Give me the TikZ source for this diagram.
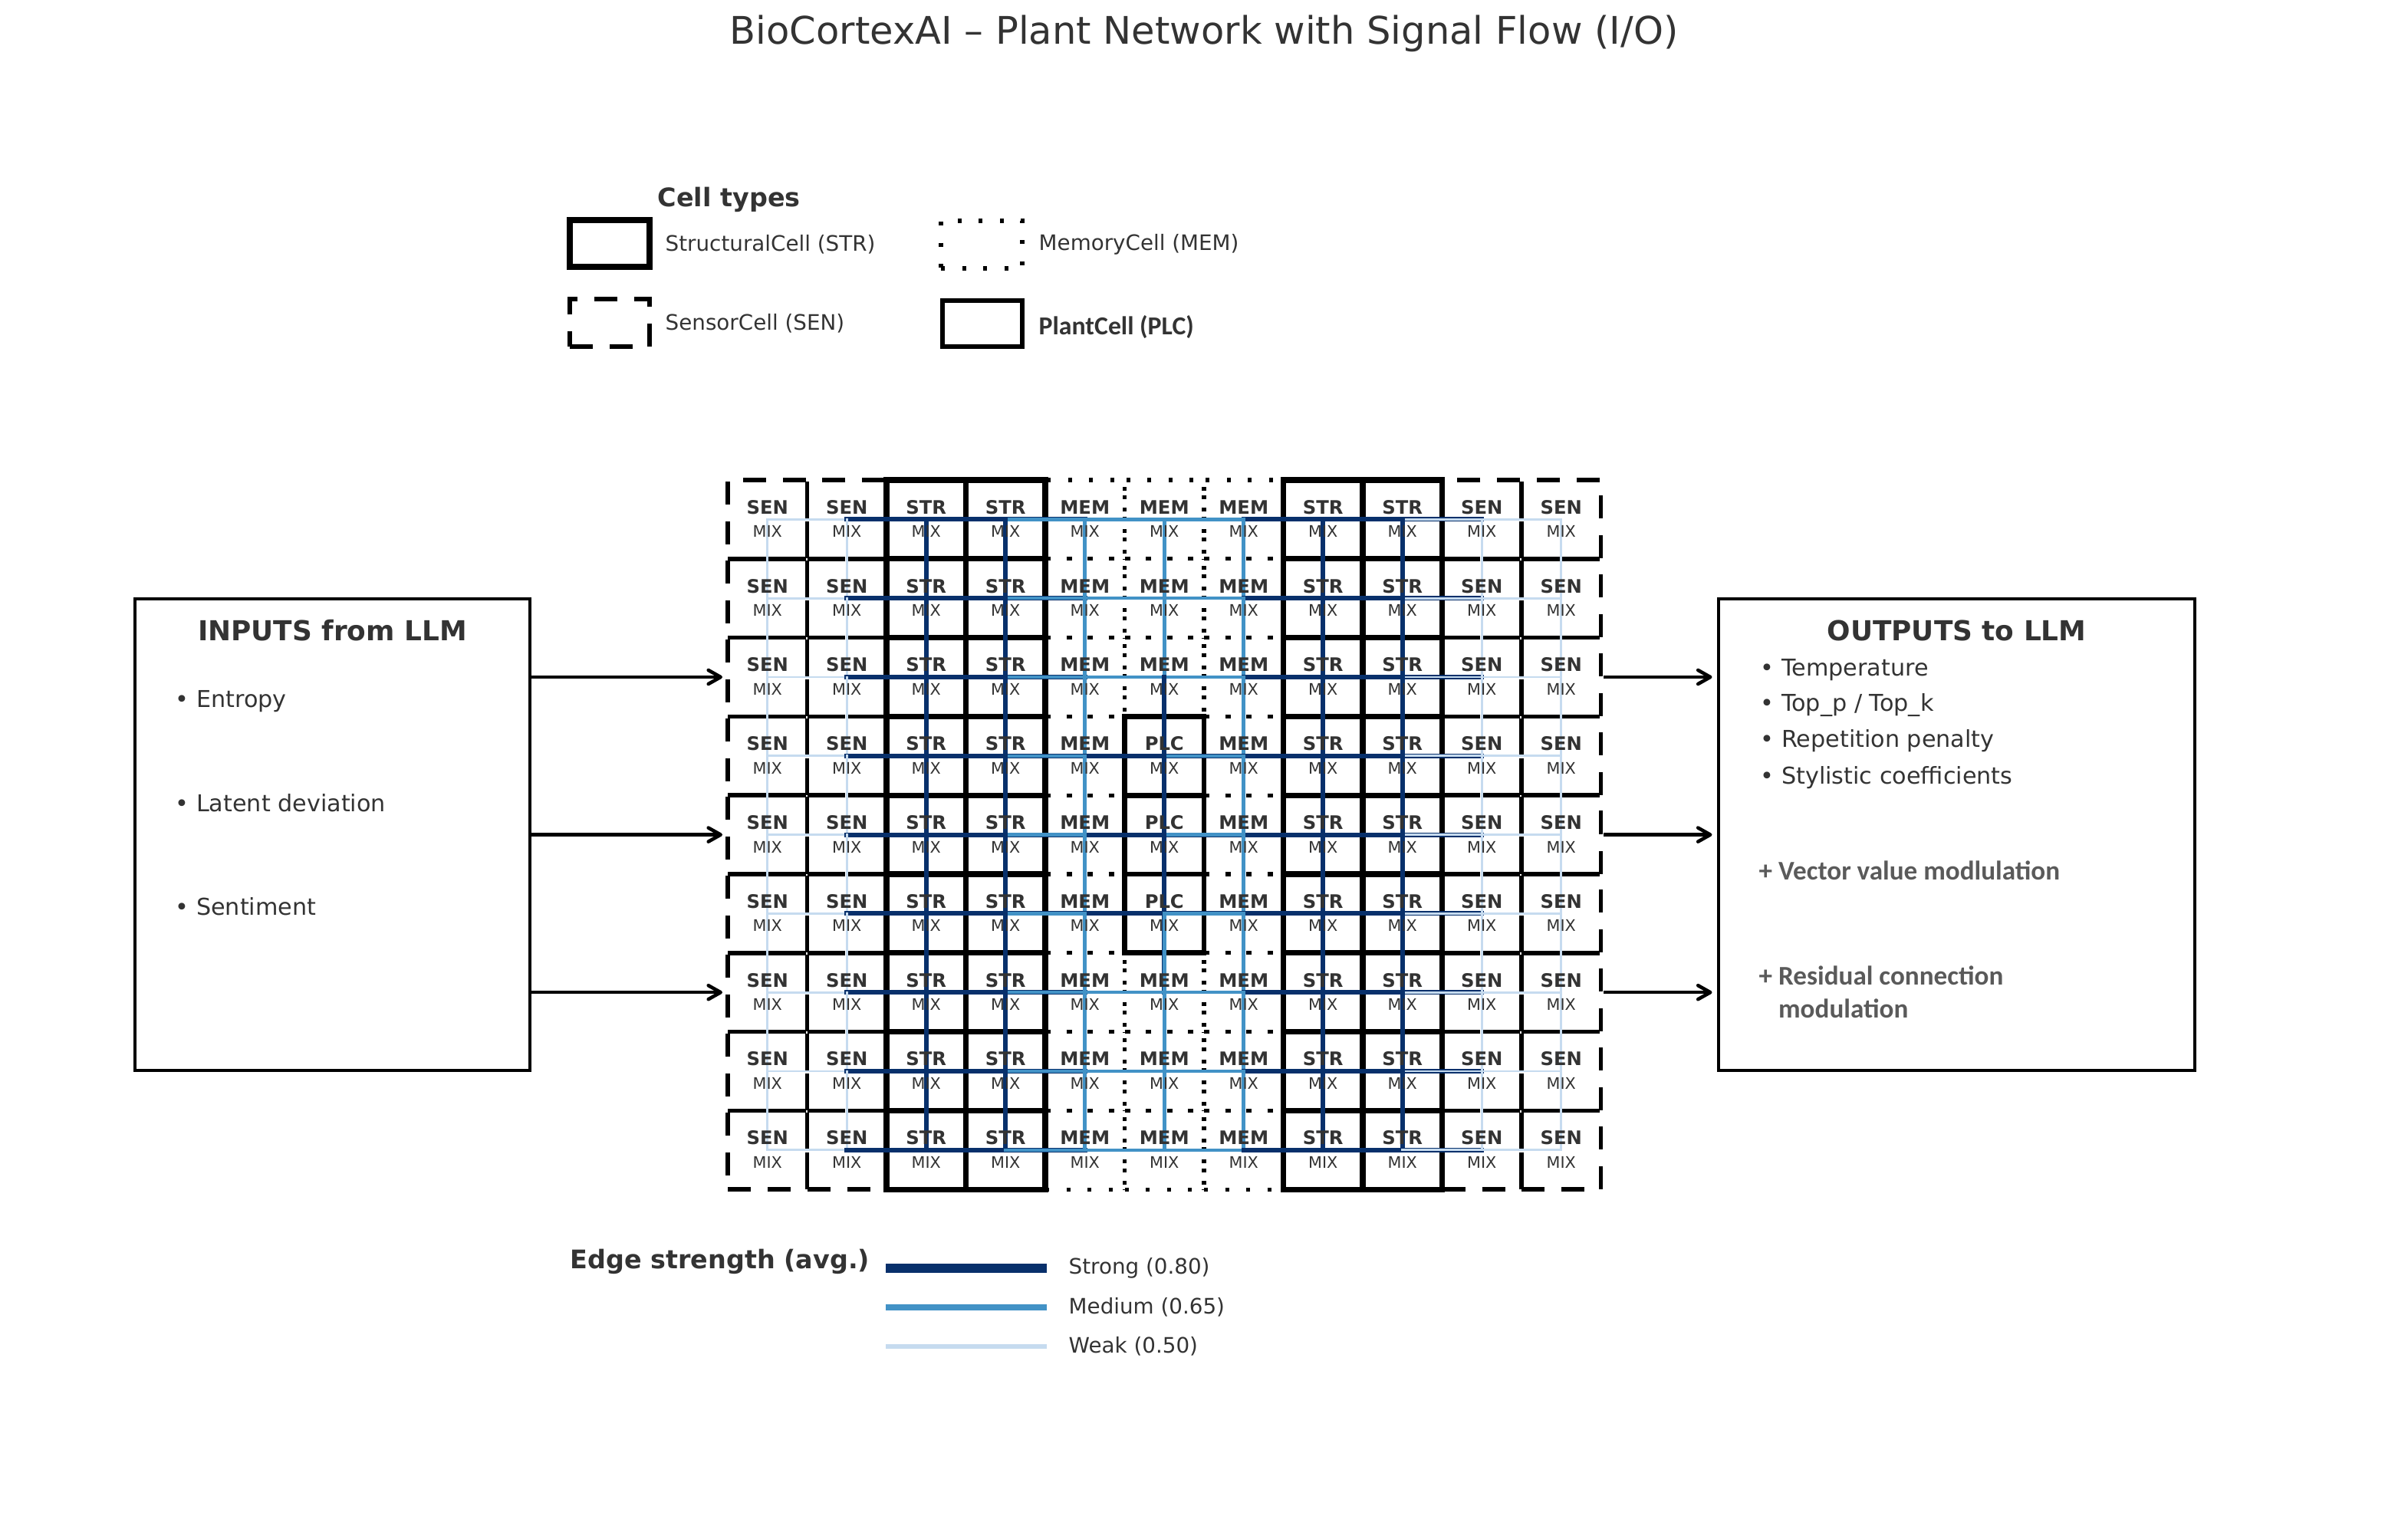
\documentclass[tikz,border=0pt]{standalone}
\usepackage{fontspec}
\setmainfont{DejaVu Sans}
\newfontfamily\calibfont{Carlito}
\usetikzlibrary{arrows.meta}

\definecolor{txt}{RGB}{51,51,51}
\definecolor{notegray}{RGB}{90,90,90}
\definecolor{strongblue}{RGB}{8,48,107}
\definecolor{mediumblue}{RGB}{66,146,198}
\definecolor{weakblue}{RGB}{198,219,239}

% kind of the cell in row #1, column #2
\newcommand\cellkind[2]{%
  \ifcase#2\relax\or\def\ctype{SEN}\or\def\ctype{SEN}\or\def\ctype{STR}\or\def\ctype{STR}%
  \or\def\ctype{MEM}\or\def\ctype{MEM}\or\def\ctype{MEM}\or\def\ctype{STR}\or\def\ctype{STR}%
  \or\def\ctype{SEN}\or\def\ctype{SEN}\fi
  \ifnum#2=6 \ifnum#1>3 \ifnum#1<7 \def\ctype{PLC}\fi\fi\fi}

\tikzset{
  cellbase/.style={rectangle, minimum width=1.035cm, minimum height=1.028cm, inner sep=0pt, outer sep=0pt},
  cellSTR/.style={cellbase, draw=black, line width=2.1pt},
  cellPLC/.style={cellbase, draw=black, line width=1.9pt},
  cellSEN/.style={cellbase, draw=black, line width=1.6pt, dash pattern=on 0.3cm off 0.22cm},
  cellMEM/.style={cellbase, draw=black, line width=1.5pt, dash pattern=on 0.05cm off 0.225cm},
  edgeSTR/.style={draw=strongblue, line width=1.7pt, line cap=rect},
  edgePLC/.style={edgeSTR},
  edgeMEM/.style={draw=mediumblue, line width=1.3pt, line cap=rect},
  edgeSEN/.style={draw=weakblue, line width=0.8pt, line cap=rect},
  kindlbl/.style={font=\bfseries\fontsize{6.9}{8}\selectfont, text=txt, inner sep=0pt},
  mixlbl/.style={font=\fontsize{5.9}{7}\selectfont, text=txt, inner sep=0pt},
  titletxt/.style={font=\fontsize{14.1}{17}\selectfont, text=txt, inner sep=0pt},
  headtxt/.style={font=\bfseries\fontsize{9.5}{11.4}\selectfont, text=txt, inner sep=0pt, anchor=west},
  legtxt/.style={font=\fontsize{7.9}{9.5}\selectfont, text=txt, inner sep=0pt, anchor=west},
  boxhead/.style={font=\bfseries\fontsize{10.2}{12.2}\selectfont, text=txt, inner sep=0pt},
  bullettxt/.style={font=\fontsize{8.6}{10.3}\selectfont, text=txt, inner sep=0pt, anchor=west},
  notetxt/.style={font=\calibfont\bfseries\fontsize{10}{12.2}\selectfont, text=notegray, inner sep=0pt, anchor=west, align=left},
  iobox/.style={draw=black, line width=1.4pt, minimum height=6.15cm, inner sep=0pt, outer sep=0pt},
  flow/.style={-{Straight Barb[length=1.6mm, width=1.8mm, round]}, line width=1.3pt, black}
}

\begin{document}
\begin{tikzpicture}
  \useasboundingbox (0,0) rectangle (31.40,-19.81);

  \node[titletxt] (title) at (15.70,-0.44) {BioCortexAI – Plant Network with Signal Flow (I/O)};

  % cell types
  \node[headtxt] (typehead) at (8.57,-2.60) {Cell types};
  \node[cellSTR, minimum width=1.04cm, minimum height=0.61cm] (legSTR) at (7.95,-3.175) {};
  \node[legtxt] (legSTRtxt) at (8.67,-3.19) {StructuralCell (STR)};
  \node[cellMEM, minimum width=1.06cm, minimum height=0.62cm] (legMEM) at (12.80,-3.19) {};
  \node[legtxt] (legMEMtxt) at (13.54,-3.19) {MemoryCell (MEM)};
  \node[cellSEN, minimum width=1.04cm, minimum height=0.62cm] (legSEN) at (7.95,-4.21) {};
  \node[legtxt] (legSENtxt) at (8.67,-4.22) {SensorCell (SEN)};
  \node[cellPLC, minimum width=1.04cm, minimum height=0.60cm] (legPLC) at (12.81,-4.22) {};
  \node[legtxt, font=\calibfont\bfseries\fontsize{9.6}{11.5}\selectfont] (legPLCtxt) at (13.54,-4.27) {PlantCell (PLC)};

  % plant network
  \begin{scope}[shift={(9.49,-6.26)}, x=1.035cm, y=-1.028cm]
    \foreach \r in {1,...,9}
      \foreach \c in {1,...,11} {
        \cellkind{\r}{\c}
        \node[cell\ctype] (cell-\r-\c) at (\c-0.5,\r-0.5) {};
      }
  \end{scope}

  \foreach \r in {1,...,9}
    \foreach \c in {1,...,11} {
      \cellkind{\r}{\c}
      \pgfmathtruncatemacro\cprev{\c-1}
      \pgfmathtruncatemacro\cnext{\c+1}
      \pgfmathtruncatemacro\rprev{\r-1}
      \pgfmathtruncatemacro\rnext{\r+1}
      \ifnum\c>1 \draw[edge\ctype] (cell-\r-\c.center) -- (cell-\r-\cprev.center);\fi
      \ifnum\c<11 \draw[edge\ctype] (cell-\r-\c.center) -- (cell-\r-\cnext.center);\fi
      \ifnum\r>1 \draw[edge\ctype] (cell-\r-\c.center) -- (cell-\rprev-\c.center);\fi
      \ifnum\r<9 \draw[edge\ctype] (cell-\r-\c.center) -- (cell-\rnext-\c.center);\fi
    }

  \foreach \r in {1,...,9}
    \foreach \c in {1,...,11} {
      \cellkind{\r}{\c}
      \node[kindlbl] (kind-\r-\c) at ([yshift=0.16cm]cell-\r-\c.center) {\ctype};
      \node[mixlbl] (mix-\r-\c) at ([yshift=-0.16cm]cell-\r-\c.center) {MIX};
    }

  % inputs and outputs
  \node[iobox, minimum width=5.15cm] (inbox) at (4.335,-10.885) {};
  \node[boxhead] (inhead) at (4.335,-8.22) {INPUTS from LLM};
  \node[bullettxt] (in1) at (2.28,-9.15) {• Entropy};
  \node[bullettxt] (in2) at (2.28,-10.47) {• Latent deviation};
  \node[bullettxt] (in3) at (2.28,-11.82) {• Sentiment};

  \node[iobox, minimum width=6.21cm] (outbox) at (25.515,-10.885) {};
  \node[boxhead] (outhead) at (25.515,-8.22) {OUTPUTS to LLM};
  \node[bullettxt] (out1) at (22.95,-8.74) {• Temperature};
  \node[bullettxt] (out2) at (22.95,-9.20) {• Top\_p / Top\_k};
  \node[bullettxt] (out3) at (22.95,-9.66) {• Repetition penalty};
  \node[bullettxt] (out4) at (22.95,-10.14) {• Stylistic coefficients};
  \node[notetxt] (note1) at (22.93,-11.35) {+ Vector value modlulation};
  \node[notetxt] (note2) at (22.93,-12.935) {+ Residual connection\\\phantom{+ }modulation};

  \foreach \r in {3,5,7} {
    \draw[flow, shorten >=0.07cm] (inbox.east |- cell-\r-1.center) -- (cell-\r-1.west);
    \draw[flow, shorten <=0.035cm, shorten >=0.085cm] (cell-\r-11.east) -- (outbox.west |- cell-\r-11.center);
  }

  % edge strength
  \node[headtxt] (edgehead) at (7.43,-16.45) {Edge strength (avg.)};
  \node[legtxt] (lgstrong) at (13.93,-16.54) {Strong (0.80)};
  \node[legtxt] (lgmedium) at (13.93,-17.05) {Medium (0.65)};
  \node[legtxt] (lgweak) at (13.93,-17.56) {Weak (0.50)};
  \draw[strongblue, line width=3.2pt] ([xshift=-0.28cm]lgstrong.west) -- ++(-2.10,0);
  \draw[mediumblue, line width=2.3pt] ([xshift=-0.28cm]lgmedium.west) -- ++(-2.10,0);
  \draw[weakblue, line width=1.5pt] ([xshift=-0.28cm]lgweak.west) -- ++(-2.10,0);
\end{tikzpicture}
\end{document}
